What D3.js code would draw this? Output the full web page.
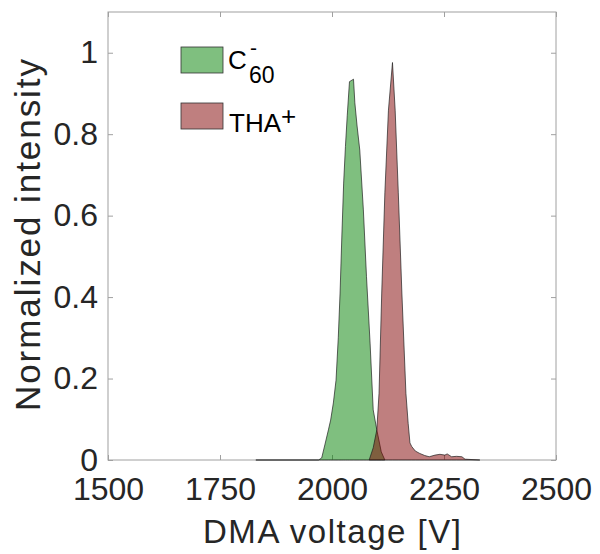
<!DOCTYPE html>
<html>
<head>
<meta charset="utf-8">
<script src="https://cdn.jsdelivr.net/npm/d3@7"></script>
<style>
  html, body { margin: 0; padding: 0; background: #fff; }
  svg { display: block; font-family: "Liberation Sans", Arial, Helvetica, sans-serif; }
</style>
</head>
<body>
<svg id="chart" width="600" height="554"></svg>
<script>
// ---- data ----
const c60Voltage = [1830, 1970, 1977, 1984, 1992, 1997, 2003, 2009, 2014, 2018, 2022, 2026, 2030, 2034, 2039, 2048, 2051, 2056, 2062, 2070, 2077, 2085, 2092, 2100, 2110, 2118];
const c60Intensity = [0, 0, 0.005, 0.037, 0.074, 0.098, 0.14, 0.196, 0.30, 0.41, 0.55, 0.68, 0.77, 0.845, 0.929, 0.935, 0.877, 0.82, 0.761, 0.614, 0.45, 0.287, 0.123, 0.074, 0.02, 0];
const thaVoltage = [2083, 2092, 2100, 2105, 2111, 2118, 2126, 2135, 2141, 2148, 2156, 2165, 2170, 2174, 2178, 2186, 2196, 2207, 2217, 2230, 2241, 2252, 2257, 2267, 2278, 2290, 2297, 2330];
const thaIntensity = [0, 0.03, 0.074, 0.164, 0.41, 0.656, 0.859, 0.976, 0.859, 0.656, 0.41, 0.164, 0.09, 0.042, 0.033, 0.022, 0.016, 0.011, 0.008, 0.012, 0.014, 0.012, 0.015, 0.008, 0.009, 0.008, 0.002, 0];
const xTicks = [1500, 1750, 2000, 2250, 2500];
const yTicks = [0, 0.2, 0.4, 0.6, 0.8, 1];
const seriesNames = ["C60-", "THA+"];
const xLabel = "DMA voltage [V]";
const yLabel = "Normalized intensity";

// ---- layout ----
const L = 108, R = 556, T = 12, B = 460;
const svg = d3.select("#chart");
const x = d3.scaleLinear().domain([1500, 2500]).range([L, R]);
const y = d3.scaleLinear().domain([0, 1.1]).range([B, T]);
const axisColor = "#a0a0a0";
const textColor = "#262626";

// axes box
svg.append("rect").attr("x", L).attr("y", T).attr("width", R - L).attr("height", B - T)
  .attr("fill", "none").attr("stroke", axisColor).attr("stroke-width", 1);

function styleAxis(g) {
  g.select(".domain").remove();
  g.selectAll(".tick line").attr("stroke", axisColor);
  g.selectAll(".tick text").attr("fill", textColor).attr("font-size", 32)
    .attr("font-family", "\"Liberation Sans\", Arial, Helvetica, sans-serif");
}
svg.append("g").attr("transform", `translate(0,${B})`)
  .call(d3.axisBottom(x).tickValues(xTicks).tickSize(-5).tickPadding(17).tickFormat(d3.format("d")))
  .call(styleAxis);
svg.append("g").attr("transform", `translate(0,${T})`)
  .call(d3.axisTop(x).tickValues(xTicks).tickSize(-5).tickFormat(""))
  .call(styleAxis);
svg.append("g").attr("transform", `translate(${L},0)`)
  .call(d3.axisLeft(y).tickValues(yTicks).tickSize(-5).tickPadding(10).tickFormat(d => d === 0 ? "0" : d === 1 ? "1" : d3.format(".1f")(d)))
  .call(styleAxis);
svg.append("g").attr("transform", `translate(${R},0)`)
  .call(d3.axisRight(y).tickValues(yTicks).tickSize(-5).tickFormat(""))
  .call(styleAxis);

// areas
const area = d3.area().x(d => x(d[0])).y0(y(0)).y1(d => y(d[1]));
const series = [
  { v: c60Voltage, i: c60Intensity, fill: "#008000" },
  { v: thaVoltage, i: thaIntensity, fill: "#800000" }
];
series.forEach(s => {
  const pts = s.v.map((v, k) => [v, s.i[k]]);
  svg.append("path").attr("d", area(pts))
    .attr("fill", s.fill).attr("fill-opacity", 0.5)
    .attr("stroke", "#1a1a1a").attr("stroke-opacity", 0.85).attr("stroke-width", 0.8)
    .attr("stroke-linejoin", "round");
});

// axis labels
svg.append("text").attr("x", (L + R) / 2).attr("y", 543).attr("text-anchor", "middle")
  .attr("font-size", 33).attr("fill", textColor)
  .attr("textLength", 258).attr("lengthAdjust", "spacing").text(xLabel);
svg.append("text").attr("transform", `translate(40,${(T + B) / 2 - 1}) rotate(-90)`)
  .attr("text-anchor", "middle").attr("font-size", 35).attr("fill", textColor)
  .attr("textLength", 352).attr("lengthAdjust", "spacing").text(yLabel);

// legend
const lg = svg.append("g");
const boxes = [{ y: 47, fill: "#008000" }, { y: 103, fill: "#800000" }];
boxes.forEach(b => {
  lg.append("rect").attr("x", 181).attr("y", b.y).attr("width", 42).attr("height", 26)
    .attr("fill", b.fill).attr("fill-opacity", 0.5).attr("stroke", "#333").attr("stroke-width", 0.8);
});
// C^-_60
lg.append("text").attr("x", 228).attr("y", 68.5).attr("font-size", 26).attr("fill", "#000").text("C");
lg.append("text").attr("x", 250).attr("y", 55).attr("font-size", 21).attr("fill", "#000").text("-");
lg.append("text").attr("x", 249).attr("y", 83).attr("font-size", 23).attr("fill", "#000").text("60");
// THA^+
lg.append("text").attr("x", 229).attr("y", 131.5).attr("font-size", 26).attr("fill", "#000").text("THA");
lg.append("text").attr("x", 281).attr("y", 125).attr("font-size", 26).attr("fill", "#000").text("+");
</script>
</body>
</html>
